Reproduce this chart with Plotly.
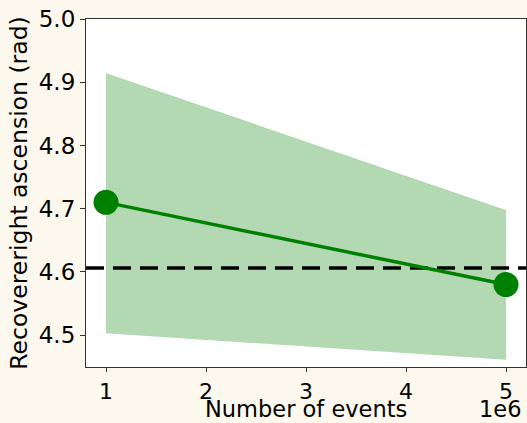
import plotly.graph_objects as go

events = [1e6, 5e6]
recovered = [4.71, 4.58]
band_low = [4.503, 4.461]
band_high = [4.914, 4.697]
true_value = 4.606
x_ticks = [1e6, 2e6, 3e6, 4e6, 5e6]
x_tick_labels = ["1", "2", "3", "4", "5"]
y_ticks = [4.5, 4.6, 4.7, 4.8, 4.9, 5.0]
y_tick_labels = ["4.5", "4.6", "4.7", "4.8", "4.9", "5.0"]

fig = go.Figure()
fig.add_trace(go.Scatter(x=events, y=band_low, mode="lines", line=dict(width=0), showlegend=False, hoverinfo="skip"))
fig.add_trace(go.Scatter(x=events, y=band_high, mode="lines", line=dict(width=0.5, color="rgba(0,128,0,0.3)"),
                         fill="tonexty", fillcolor="rgba(0,128,0,0.3)", showlegend=False))
fig.add_trace(go.Scatter(x=[0.8e6, 5.2e6], y=[true_value, true_value], mode="lines",
                         line=dict(color="black", width=3.5, dash="18px,9px"), showlegend=False))
fig.add_trace(go.Scatter(x=events, y=recovered, mode="lines+markers",
                         line=dict(color="green", width=3.5),
                         marker=dict(color="green", size=25), showlegend=False, cliponaxis=False))

fig.update_layout(
    width=527, height=423,
    margin=dict(l=86, r=1, t=19, b=56),
    paper_bgcolor="#fdf8ed", plot_bgcolor="white",
    font=dict(family="DejaVu Sans", size=23, color="black"),
    xaxis=dict(range=[0.8e6, 5.2e6], tickvals=x_ticks, ticktext=x_tick_labels,
               showgrid=False, zeroline=False, showline=True, linecolor="#333", linewidth=1.2, mirror=True,
               ticks="outside", ticklen=4, tickcolor="#333", tickfont=dict(size=22)),
    yaxis=dict(range=[4.4496, 5.0], tickvals=y_ticks, ticktext=y_tick_labels,
               showgrid=False, zeroline=False, showline=True, linecolor="#333", linewidth=1.2, mirror=True,
               ticks="outside", ticklen=5, tickcolor="#333", tickfont=dict(size=23),
               title=dict(text="Recovereright ascension (rad)", font=dict(size=23.5), standoff=4)),
    annotations=[
        dict(text="Number of events", x=0.5, xref="paper", y=-0.121, yref="paper", xanchor="center",
             yanchor="middle", showarrow=False, font=dict(size=22.5)),
        dict(text="1e6", x=0.993, xref="paper", y=-0.121, yref="paper", xanchor="right", yanchor="middle",
             showarrow=False, font=dict(size=22.5)),
    ],
)
fig.write_html("out.html")
